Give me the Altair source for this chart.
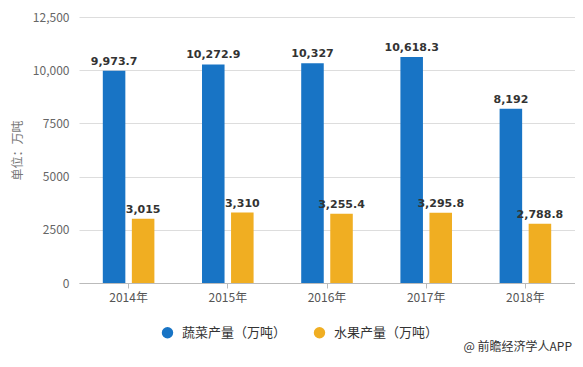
import altair as alt
import pandas as pd

years = ["2014年", "2015年", "2016年", "2017年", "2018年"]
veg = [9973.7, 10272.9, 10327, 10618.3, 8192]
fruit = [3015, 3310, 3255.4, 3295.8, 2788.8]
series = ["蔬菜产量（万吨）", "水果产量（万吨）"]
colors = ["#1874c5", "#f0ae22"]
y_ticks = [0, 2500, 5000, 7500, 10000, 12500]
y_title = "单位：万吨"
credit = ["@ 前瞻经济学人APP"]

rows = []
for i, yr in enumerate(years):
    rows.append({"year": yr, "series": series[0], "value": veg[i]})
    rows.append({"year": yr, "series": series[1], "value": fruit[i]})
df = pd.DataFrame(rows)

cjk = "Noto Sans CJK SC"

x_enc = alt.X(
    "year:N", sort=years,
    scale=alt.Scale(paddingInner=0.48, paddingOuter=0.24),
    axis=alt.Axis(title=None, labelAngle=0, labelFont=cjk, labelFontSize=12,
                  labelColor="#555", domainColor="#bbb", tickColor="#bbb",
                  tickSize=5, labelPadding=4, grid=False),
)
y_enc = alt.Y(
    "value:Q",
    scale=alt.Scale(domain=[0, 12500], nice=False),
    axis=alt.Axis(values=y_ticks, title=y_title, titleFont=cjk, titleFontSize=12,
                  titleColor="#777", titleFontWeight="normal", titlePadding=8,
                  labelFont=cjk, labelFontSize=12, labelColor="#666",
                  labelExpr="datum.value >= 10000 ? format(datum.value, ',') : format(datum.value, 'd')",
                  domain=False, ticks=False, labelPadding=10,
                  gridColor="#dddddd"),
)
xo = alt.XOffset("series:N", sort=series,
                 scale=alt.Scale(paddingInner=0.224, paddingOuter=0))
color_enc = alt.Color(
    "series:N", sort=series,
    scale=alt.Scale(domain=series, range=colors),
    legend=alt.Legend(orient="none", legendX=82, legendY=309, direction="horizontal",
                      title=None, symbolType="circle", symbolSize=130,
                      symbolStrokeWidth=0, labelFont=cjk, labelFontSize=13,
                      labelColor="#333", columnPadding=26, labelOffset=8, padding=0),
)

base = alt.Chart(df)
bars = base.mark_bar().encode(x=x_enc, y=y_enc, xOffset=xo, color=color_enc)
labels = base.mark_text(baseline="bottom", dy=-4, font="DejaVu Sans",
                        fontWeight="bold", fontSize=11, color="#333").encode(
    x=alt.X("year:N", sort=years), y="value:Q", xOffset=xo,
    text=alt.Text("value:Q", format=","),
)
note = alt.Chart(pd.DataFrame({"t": credit})).mark_text(
    align="right", baseline="middle", font=cjk, fontSize=12, color="#333"
).encode(x=alt.value(493), y=alt.value(330), text="t:N")

chart = alt.layer(bars, labels, note).properties(
    width=496, height=266,
    padding={"left": 71, "top": 9, "right": 0, "bottom": 76},
    autosize="none",
).configure_view(stroke=None)

chart.save("out.html", embed_options={"renderer": "svg", "actions": False})
